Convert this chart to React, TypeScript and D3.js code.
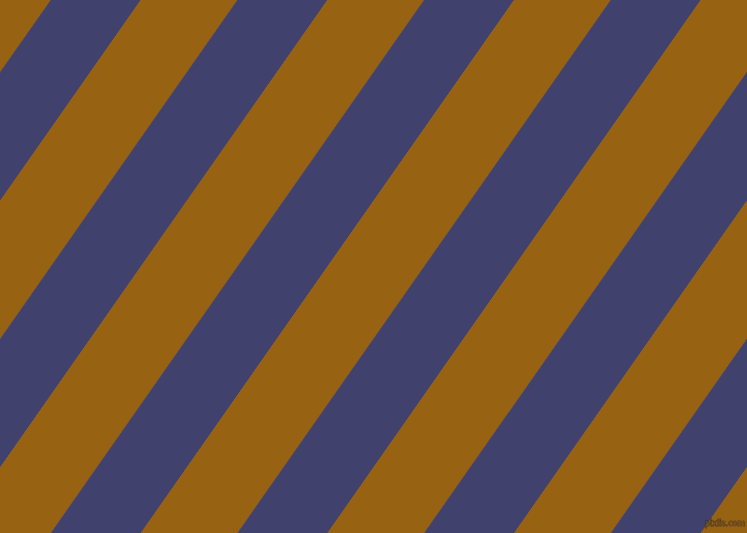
import * as d3 from "d3";
import { useEffect, useRef } from "react";

// stripe sequence across the picture, measured perpendicular to the stripes
const bands = [
  "ochre", "navy", "ochre", "navy", "ochre", "navy", "ochre",
  "navy", "ochre", "navy", "ochre", "navy", "ochre",
];
const bandValues = [79.2, 73.7, 79.2, 73.7, 79.2, 73.7, 79.2, 73.7, 79.2, 73.7, 79.2, 73.7, 79.2];
const palette: Record<string, string> = { ochre: "#986213", navy: "#40416d" };
const watermark = "pixlis.com";

export default function App() {
  const svgRef = useRef<SVGSVGElement>(null);

  useEffect(() => {
    const width = 747;
    const height = 533;
    const angle = 35;

    const svg = d3.select(svgRef.current)
      .attr("width", width)
      .attr("height", height);

    svg.selectAll("*").remove();

    const ends = Array.from(d3.cumsum(bandValues));
    const starts = ends.map((e, i) => e - bandValues[i]);
    const total = ends[ends.length - 1];

    // offset so the first ochre→navy edge crosses the top edge at x≈50
    const s = d3.scaleLinear().domain([0, total]).range([-37.7, total - 37.7]);

    const g = svg.append("g").attr("transform", `rotate(${angle})`);

    g.selectAll("rect")
      .data(bands)
      .join("rect")
      .attr("x", (_, i) => s(starts[i]))
      .attr("y", -600)
      .attr("width", (_, i) => s(ends[i]) - s(starts[i]) + 0.5)
      .attr("height", 1200)
      .attr("fill", d => palette[d]);

    svg.append("text")
      .attr("x", width - 2)
      .attr("y", height - 7)
      .attr("text-anchor", "end")
      .attr("font-family", "DejaVu Sans, sans-serif")
      .attr("font-size", 8)
      .attr("fill", "rgba(160,120,60,0.6)")
      .attr("stroke", "rgba(30,25,20,0.7)")
      .attr("stroke-width", 0.8)
      .attr("paint-order", "stroke")
      .text(watermark);
  }, []);

  return (
    <svg
      ref={svgRef}
      style={{ position: "absolute", left: 0, top: 0, display: "block" }}
    />
  );
}
